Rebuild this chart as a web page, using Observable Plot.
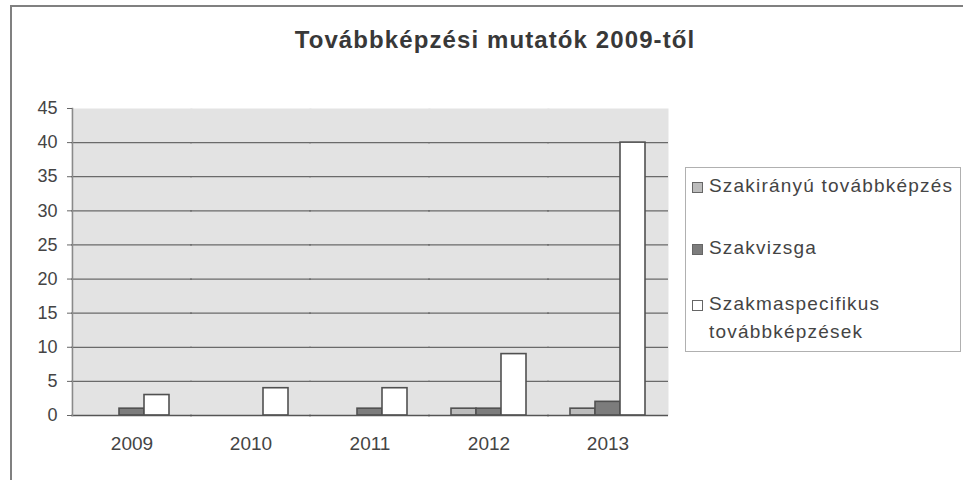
<!DOCTYPE html>
<html>
<head>
<meta charset="utf-8">
<script src="https://cdn.jsdelivr.net/npm/d3@7"></script>
<script src="https://cdn.jsdelivr.net/npm/@observablehq/plot@0.6"></script>
<style>
  html, body { margin: 0; padding: 0; background: #fff; }
  #wrap { position: relative; width: 963px; height: 480px; overflow: hidden; font-family: Arial, "Liberation Sans", sans-serif; }
  #frame { position: absolute; left: 10px; top: 5px; width: 960px; height: 480px; border-top: 2px solid #808080; border-left: 2px solid #808080; box-sizing: border-box; }
  #title { position: absolute; left: 0; width: 990px; top: 26px; text-align: center; font-weight: bold; font-size: 24px; letter-spacing: 1.1px; color: #383838; }
  #legend { position: absolute; left: 685px; top: 167px; width: 276px; height: 185px; border: 1px solid #b0b0b0; box-sizing: border-box; background: #fff; font-size: 19px; letter-spacing: 1.2px; color: #444; }
  .item { position: absolute; left: 6px; display: flex; align-items: flex-start; line-height: 28px; }
  .sw { width: 9px; height: 9px; border: 1px solid #666; margin-top: 10px; margin-right: 6px; flex: none; }
  #chart { position: absolute; left: 0; top: 0; }
</style>
</head>
<body>
<div id="wrap">
  <div id="frame"></div>
  <div id="chart"></div>
  <div id="title"></div>
  <div id="legend"></div>
</div>
<script>
const titleText = "Továbbképzési mutatók 2009-től";
const years = ["2009", "2010", "2011", "2012", "2013"];
const series = ["Szakirányú továbbképzés", "Szakvizsga", "Szakmaspecifikus továbbképzések"];
const szakiranyu = [0, 0, 0, 1, 1];
const szakvizsga = [1, 0, 1, 1, 2];
const szakmaspecifikus = [3, 4, 4, 9, 40];
const yTicks = [0, 5, 10, 15, 20, 25, 30, 35, 40, 45];
const colors = ["#bcbcbc", "#7c7c7c", "#ffffff"];

const values = [szakiranyu, szakvizsga, szakmaspecifikus];
const data = [];
years.forEach((yr, i) => series.forEach((s, j) => data.push({year: yr, series: s, value: values[j][i]})));

document.getElementById("title").textContent = titleText;

const chart = Plot.plot({
  width: 963,
  height: 480,
  marginLeft: 70,
  marginRight: 295,
  marginTop: 108,
  marginBottom: 65,
  style: {fontFamily: "Arial, 'Liberation Sans', sans-serif", background: "transparent"},
  fx: {domain: years, padding: 0, label: null},
  x: {domain: series, paddingInner: 0, paddingOuter: 0.8, axis: null},
  y: {domain: [0, 45], label: null},
  color: {domain: series, range: colors},
  marks: [
    Plot.frame({fill: "#e3e3e3", stroke: null, insetLeft: -1, insetRight: -1}),
    Plot.ruleY(yTicks.filter(d => d > 0 && d < 45), {stroke: "#6a6a6a", strokeWidth: 1.2, insetLeft: -1, insetRight: -1}),
    Plot.barY(data.filter(d => d.value > 0), {fx: "year", x: "series", y: "value", fill: "series", stroke: "#505050", strokeWidth: 1.6}),
    Plot.ruleY([0], {stroke: "#555", strokeWidth: 1.5, insetLeft: -1, insetRight: -1}),
    Plot.frame({anchor: "left", facetAnchor: "left", stroke: "#8a8a8a", strokeWidth: 1.5}),
    Plot.axisY({ticks: yTicks, tickSize: 5, tickPadding: 10, fontSize: 18, color: "#444", stroke: "#666", label: null}),
    Plot.axisFx({anchor: "bottom", tickSize: 0, tickPadding: 21, fontSize: 19, color: "#444", label: null})
  ]
});
document.getElementById("chart").appendChild(chart);

const legend = document.getElementById("legend");
const tops = [4, 66, 122];
series.forEach((s, j) => {
  const it = document.createElement("div");
  it.className = "item";
  it.style.top = tops[j] + "px";
  const sw = document.createElement("div");
  sw.className = "sw";
  sw.style.background = colors[j];
  const tx = document.createElement("div");
  tx.textContent = s;
  if (j === 2) tx.style.width = "210px";
  it.appendChild(sw);
  it.appendChild(tx);
  legend.appendChild(it);
});
</script>
</body>
</html>
